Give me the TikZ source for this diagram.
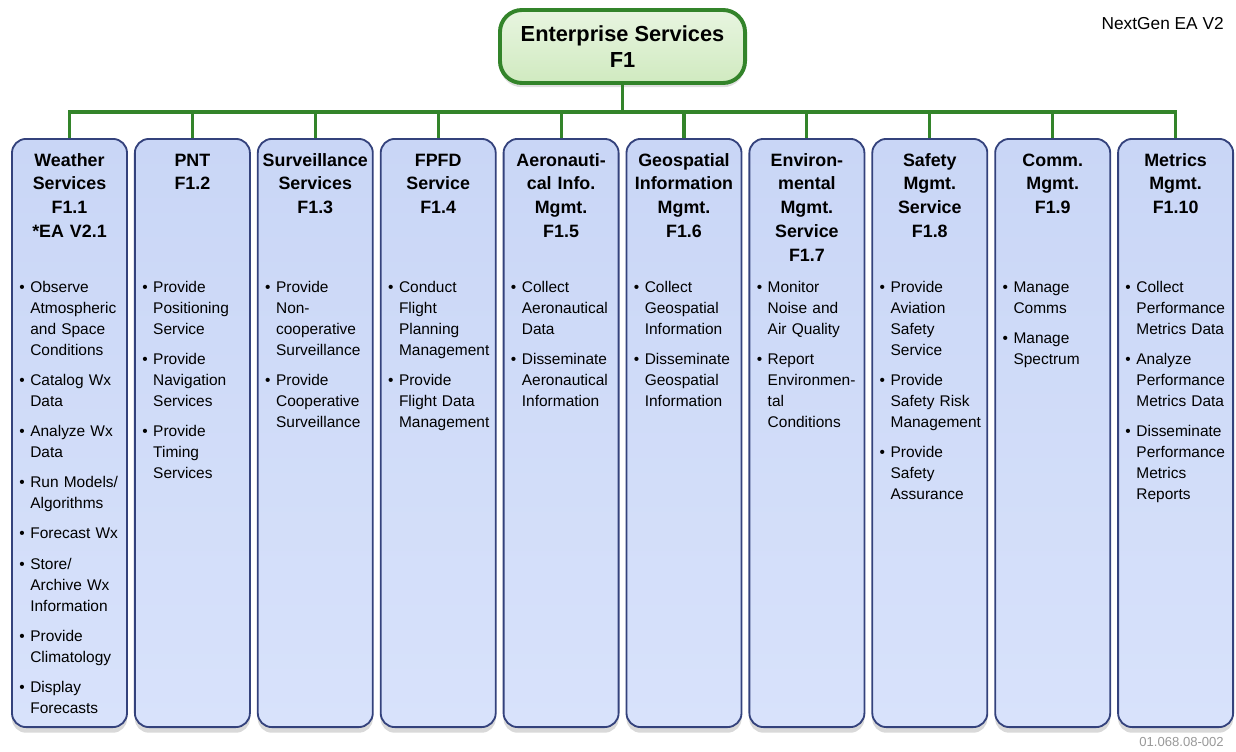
\documentclass[tikz,border=0pt]{standalone}
\usepackage{fontspec}
\setmainfont{Liberation Sans}
\usetikzlibrary{shadows}

\definecolor{esgreen}{HTML}{33842A}
\definecolor{esfilltop}{HTML}{E8F5E0}
\definecolor{esfillbot}{HTML}{D0EAC0}
\definecolor{svcline}{HTML}{34427C}
\definecolor{svctop}{HTML}{C9D6F6}
\definecolor{svcbot}{HTML}{D8E2FB}
\definecolor{notegray}{HTML}{999999}

% 列表项：圆点 + 悬挂缩进
\newcommand{\itm}[1]{\hangindent=7.8pt\hangafter=1\noindent\makebox[7.8pt][l]{\textbullet}{\let\\\newline #1}\par\vspace{6.4pt}}

\begin{document}
\begin{tikzpicture}[x=0.025cm, y=-0.025cm,
        rootbox/.style={draw=esgreen, line width=2.8pt, rounded corners=0.55cm,
            top color=esfilltop, bottom color=esfillbot,
            minimum width=6.125cm, minimum height=1.825cm, align=center,
            font=\fontsize{15.5}{18.5}\selectfont\bfseries,
            drop shadow={opacity=0.25, shadow xshift=0pt, shadow yshift=-3pt}},
        svcbox/.style={draw=svcline, line width=1.3pt, rounded corners=0.35cm,
            top color=svctop, bottom color=svcbot,
            minimum width=2.875cm, minimum height=14.7cm,
            drop shadow={opacity=0.3, shadow xshift=0pt, shadow yshift=-4pt}},
        head/.style={anchor=base, text width=2.875cm, align=center, inner sep=0pt,
            font=\fontsize{12.7}{17}\selectfont\bfseries},
        items/.style={anchor=base west, xshift=0.2cm, inner sep=0pt,
            text width=2.7cm, align=left, font=\fontsize{11}{15}\selectfont},
        link/.style={draw=esgreen, line width=2.2pt}
    ]
    \useasboundingbox (0,0) rectangle (1236,751);

    \node[rootbox] (es) at (622.5,46.5) {Enterprise Services\\F1};
    \coordinate (bus) at (es.south |- 0,112);

    % 十个服务框
    \foreach \i in {1,...,10}
        \node[svcbox] (f\i) at ({69.5+122.9*(\i-1)},433) {};

    \foreach \i in {1,...,10}
        \draw[link] (es.south) -- (bus) -| (f\i.north);

    \node[head] (h1) at (f1 |- 0,166) {Weather\\Services\\F1.1\\{*}EA V2.1};
    \node[head] (h2) at (f2 |- 0,166) {PNT\\F1.2};
    \node[head] (h3) at (f3 |- 0,166) {Surveillance\\Services\\F1.3};
    \node[head] (h4) at (f4 |- 0,166) {FPFD\\Service\\F1.4};
    \node[head] (h5) at (f5 |- 0,166) {Aeronauti-\\cal Info.\\Mgmt.\\F1.5};
    \node[head] (h6) at (f6 |- 0,166) {Geospatial\\Information\\Mgmt.\\F1.6};
    \node[head] (h7) at (f7 |- 0,166) {Environ-\\mental\\Mgmt.\\Service\\F1.7};
    \node[head] (h8) at (f8 |- 0,166) {Safety\\Mgmt.\\Service\\F1.8};
    \node[head] (h9) at (f9 |- 0,166) {Comm.\\Mgmt.\\F1.9};
    \node[head] (h10) at (f10 |- 0,166) {Metrics\\Mgmt.\\F1.10};

    \node[items] (i1) at (f1.west |- 0,292) {\itm{Observe\\Atmospheric\\and Space\\Conditions}\itm{Catalog Wx\\Data}\itm{Analyze Wx\\Data}\itm{Run Models/\\Algorithms}\itm{Forecast Wx}\itm{Store/\\Archive Wx\\Information}\itm{Provide\\Climatology}\itm{Display\\Forecasts}};
    \node[items] (i2) at (f2.west |- 0,292) {\itm{Provide\\Positioning\\Service}\itm{Provide\\Navigation\\Services}\itm{Provide\\Timing\\Services}};
    \node[items] (i3) at (f3.west |- 0,292) {\itm{Provide\\Non-\\cooperative\\Surveillance}\itm{Provide\\Cooperative\\Surveillance}};
    \node[items] (i4) at (f4.west |- 0,292) {\itm{Conduct\\Flight\\Planning\\Management}\itm{Provide\\Flight Data\\Management}};
    \node[items] (i5) at (f5.west |- 0,292) {\itm{Collect\\Aeronautical\\Data}\itm{Disseminate\\Aeronautical\\Information}};
    \node[items] (i6) at (f6.west |- 0,292) {\itm{Collect\\Geospatial\\Information}\itm{Disseminate\\Geospatial\\Information}};
    \node[items] (i7) at (f7.west |- 0,292) {\itm{Monitor\\Noise and\\Air Quality}\itm{Report\\Environmen-\\tal\\Conditions}};
    \node[items] (i8) at (f8.west |- 0,292) {\itm{Provide\\Aviation\\Safety\\Service}\itm{Provide\\Safety Risk\\Management}\itm{Provide\\Safety\\Assurance}};
    \node[items] (i9) at (f9.west |- 0,292) {\itm{Manage\\Comms}\itm{Manage\\Spectrum}};
    \node[items] (i10) at (f10.west |- 0,292) {\itm{Collect\\Performance\\Metrics Data}\itm{Analyze\\Performance\\Metrics Data}\itm{Disseminate\\Performance\\Metrics\\Reports}};

    \node[anchor=base east, inner sep=0pt, font=\fontsize{12.3}{14}\selectfont] (ver) at (1224,29) {NextGen EA V2};
    \node[anchor=base east, inner sep=0pt, text=notegray, font=\fontsize{9.3}{11}\selectfont] (docid) at (1224,746) {01.068.08-002};
\end{tikzpicture}
\end{document}
